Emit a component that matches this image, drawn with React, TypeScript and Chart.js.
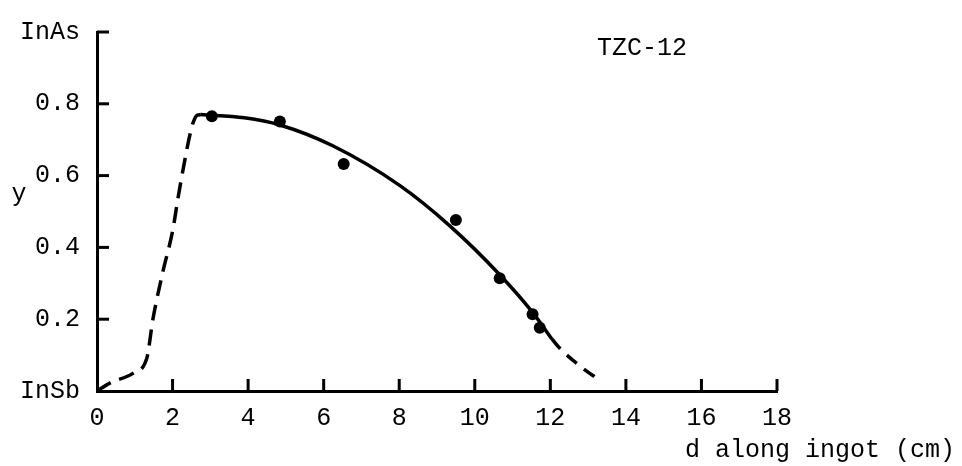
import React, { useEffect, useRef } from 'react';
import { Chart, registerables } from 'chart.js';

Chart.register(...registerables);

// measured composition points (d in cm, y mole fraction InAs)
const measuredD = [3.04, 4.84, 6.53, 9.5, 10.66, 11.53, 11.72];
const measuredY = [0.765, 0.751, 0.632, 0.476, 0.314, 0.214, 0.176];

// solid fitted curve
const fitD = [2.75, 3.9, 4.84, 6.24, 8.02, 9.34, 10.66, 11.53, 12.04];
const fitY = [0.77, 0.761, 0.741, 0.683, 0.572, 0.46, 0.324, 0.219, 0.145];

// dashed rise at ingot start
const riseD = [0, 0.34, 0.95, 1.32, 1.48, 1.75, 2.01, 2.14, 2.33, 2.46, 2.54, 2.65, 2.75];
const riseY = [0, 0.022, 0.049, 0.092, 0.2, 0.335, 0.45, 0.535, 0.646, 0.714, 0.746, 0.768, 0.77];

// dashed tail at ingot end
const tailD = [12.04, 12.25, 12.78, 13.3];
const tailY = [0.145, 0.119, 0.07, 0.03];

const xTicks = [0, 2, 4, 6, 8, 10, 12, 14, 16, 18];
const yTicks = [0, 0.2, 0.4, 0.6, 0.8, 1.0];
const yTickLabels = ['InSb', '0.2', '0.4', '0.6', '0.8', 'InAs'];

const xTitle = 'd along ingot (cm)';
const yTitle = 'y';
const sampleLabel = 'TZC-12';

const FONT = "'Liberation Mono', 'Courier New', monospace";

const pts = (xs: number[], ys: number[]) => xs.map((x, i) => ({ x, y: ys[i] }));

export default function App() {
  const ref = useRef<HTMLCanvasElement | null>(null);

  useEffect(() => {
    if (!ref.current) return;
    const overlay = {
      id: 'overlay',
      afterDraw(chart: any) {
        const { ctx, scales } = chart;
        const xs = scales.x;
        const ys = scales.y;
        ctx.save();
        ctx.strokeStyle = '#000';
        ctx.lineWidth = 3;
        ctx.lineCap = 'butt';
        const y0 = ys.getPixelForValue(0);
        const x0 = xs.getPixelForValue(0);
        xTicks.forEach((v) => {
          if (v === 0) return;
          const px = xs.getPixelForValue(v);
          ctx.beginPath();
          ctx.moveTo(px, y0);
          ctx.lineTo(px, y0 - 12);
          ctx.stroke();
        });
        yTicks.forEach((v) => {
          if (v === 0) return;
          const py = ys.getPixelForValue(v);
          ctx.beginPath();
          ctx.moveTo(x0, py);
          ctx.lineTo(x0 + 12, py);
          ctx.stroke();
        });
        ctx.fillStyle = '#000';
        ctx.font = `25px ${FONT}`;
        ctx.textBaseline = 'alphabetic';
        ctx.textAlign = 'center';
        ctx.fillText(yTitle, 19, 201);
        ctx.textAlign = 'right';
        ctx.fillText(xTitle, 955, 457);
        ctx.textAlign = 'left';
        ctx.fillText(sampleLabel, 597, 55);
        ctx.restore();
      },
    };

    const chart = new Chart(ref.current, {
      type: 'scatter',
      data: {
        datasets: [
          {
            data: pts(riseD, riseY),
            showLine: true,
            borderColor: '#000',
            borderWidth: 3.5,
            borderDash: [16, 9],
            pointRadius: 0,
            cubicInterpolationMode: 'monotone',
          },
          {
            data: pts(fitD, fitY),
            showLine: true,
            borderColor: '#000',
            borderWidth: 3.5,
            pointRadius: 0,
            cubicInterpolationMode: 'monotone',
          },
          {
            data: pts(tailD, tailY),
            showLine: true,
            borderColor: '#000',
            borderWidth: 3.5,
            borderDash: [13, 9],
            pointRadius: 0,
            cubicInterpolationMode: 'monotone',
          },
          {
            data: pts(measuredD, measuredY),
            showLine: false,
            pointRadius: 6,
            pointBackgroundColor: '#000',
            pointBorderWidth: 0,
          },
        ] as any,
      },
      options: {
        responsive: false,
        animation: false,
        layout: { padding: { top: 22, right: 185, bottom: 0, left: 0 } },
        plugins: { legend: { display: false }, tooltip: { enabled: false } },
        scales: {
          x: {
            type: 'linear',
            min: 0,
            max: 18,
            afterBuildTicks: (s: any) => {
              s.ticks = xTicks.map((v) => ({ value: v }));
            },
            afterFit: (s: any) => {
              s.height = 75;
            },
            grid: { display: false, drawTicks: false },
            border: { display: true, color: '#000', width: 3 },
            ticks: {
              color: '#000',
              padding: 12,
              maxRotation: 0,
              autoSkip: false,
              font: { family: FONT, size: 25 },
              callback: (v: any) => String(v),
            },
          },
          y: {
            type: 'linear',
            min: 0,
            max: 1,
            afterBuildTicks: (s: any) => {
              s.ticks = yTicks.map((v) => ({ value: v }));
            },
            afterFit: (s: any) => {
              s.width = 97;
            },
            grid: { display: false, drawTicks: false },
            border: { display: true, color: '#000', width: 3 },
            ticks: {
              color: '#000',
              padding: 17,
              autoSkip: false,
              font: { family: FONT, size: 25 },
              callback: (_v: any, i: number) => yTickLabels[i],
            },
          },
        },
      } as any,
      plugins: [overlay],
    });
    return () => chart.destroy();
  }, []);

  return (
    <div style={{ position: 'absolute', left: 0, top: 0, width: 962, height: 466, background: '#fff' }}>
      <canvas ref={ref} width={962} height={466} style={{ display: 'block' }} />
    </div>
  );
}
